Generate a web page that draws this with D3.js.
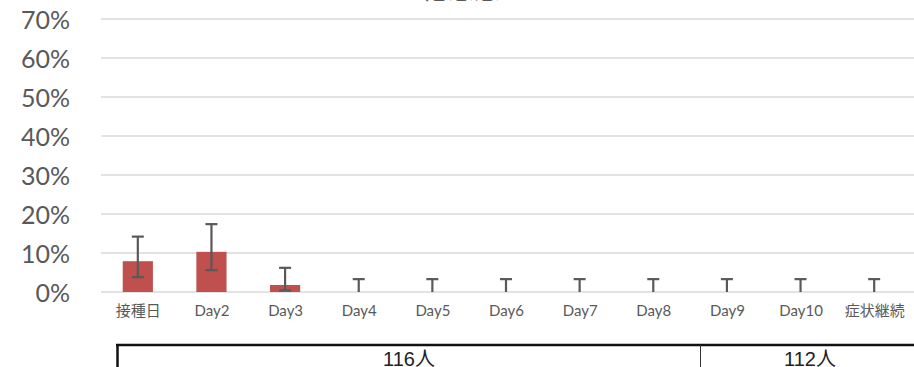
<!DOCTYPE html>
<html>
<head>
<meta charset="utf-8">
<script src="https://cdn.jsdelivr.net/npm/d3@7"></script>
<style>
  html, body { margin: 0; padding: 0; background: #fff; overflow: hidden; }
  svg { display: block; }
</style>
</head>
<body>
<script>
// ---- data ----
const categories = ["接種日","Day2","Day3","Day4","Day5","Day6","Day7","Day8","Day9","Day10","症状継続"];
const values = [7.9, 10.3, 1.8, 0, 0, 0, 0, 0, 0, 0, 0];          // %
const upperCI = [14.2, 17.4, 6.2, 3.3, 3.3, 3.3, 3.3, 3.3, 3.3, 3.3, 3.3];
const lowerCI = [3.8, 5.6, 0.4, 0, 0, 0, 0, 0, 0, 0, 0];
const yTicks = [0, 10, 20, 30, 40, 50, 60, 70];
const titleText = "倦怠感";
const groupLabels = ["116人", "112人"];

// ---- layout ----
const W = 914, H = 367;
const svg = d3.select("body").append("svg").attr("width", W).attr("height", H);

const x = d3.scalePoint().domain(categories).range([101, 911]).padding(0.5);
const step = x.step();
const barW = step * 0.41;
const y = d3.scaleLinear().domain([0, 70]).range([292, 19]);

const latin = "Lato, 'Noto Sans CJK JP', sans-serif";

// title (mostly clipped above the view)
svg.append("text")
  .attr("x", 461).attr("y", -1)
  .attr("text-anchor", "middle")
  .attr("font-family", "'Noto Sans CJK JP', sans-serif")
  .attr("font-size", 26)
  .attr("fill", "#595959")
  .text(titleText);

// gridlines
svg.append("g").selectAll("line").data(yTicks).join("line")
  .attr("x1", 101).attr("x2", W)
  .attr("y1", d => y(d)).attr("y2", d => y(d))
  .attr("stroke", "#d9d9d9").attr("stroke-width", 1.5);

// y axis labels via d3 axis
const yAxis = d3.axisLeft(y).tickValues(yTicks).tickFormat(d => d + "%").tickSize(0).tickPadding(0);
const yg = svg.append("g").attr("transform", "translate(70,0)").call(yAxis);
yg.select(".domain").remove();
yg.selectAll("text")
  .attr("font-family", latin)
  .attr("font-size", 25)
  .attr("fill", "#595959")
  .attr("dy", "0.36em");

// bars
svg.append("g").selectAll("rect").data(categories).join("rect")
  .attr("x", d => x(d) - barW / 2)
  .attr("width", barW)
  .attr("y", (d, i) => y(values[i]))
  .attr("height", (d, i) => y(0) - y(values[i]))
  .attr("fill", "#c0504d");

// error bars
const eb = svg.append("g").attr("stroke", "#595959").attr("stroke-width", 2.2);
categories.forEach((c, i) => {
  const cx = x(c);
  eb.append("line").attr("x1", cx).attr("x2", cx)
    .attr("y1", y(upperCI[i])).attr("y2", y(lowerCI[i]));
  eb.append("line").attr("x1", cx - 6).attr("x2", cx + 6)
    .attr("y1", y(upperCI[i])).attr("y2", y(upperCI[i]));
  if (lowerCI[i] > 0) {
    eb.append("line").attr("x1", cx - 6).attr("x2", cx + 6)
      .attr("y1", y(lowerCI[i])).attr("y2", y(lowerCI[i]));
  }
});

// x axis labels via d3 axis
const xAxis = d3.axisBottom(x).tickSize(0).tickPadding(0);
const xg = svg.append("g").attr("transform", "translate(0,305)").call(xAxis);
xg.select(".domain").remove();
xg.selectAll("text")
  .attr("font-family", latin)
  .attr("font-size", 15)
  .attr("fill", "#595959")
  .attr("dy", "0.71em");

// bottom table
const tbl = svg.append("g");
tbl.append("line").attr("x1", 116).attr("x2", W).attr("y1", 345).attr("y2", 345)
  .attr("stroke", "#111").attr("stroke-width", 2.5);
tbl.append("line").attr("x1", 117.5).attr("x2", 117.5).attr("y1", 344).attr("y2", H)
  .attr("stroke", "#111").attr("stroke-width", 2.5);
tbl.append("line").attr("x1", 700.5).attr("x2", 700.5).attr("y1", 345).attr("y2", H)
  .attr("stroke", "#333").attr("stroke-width", 1);
const groupCenters = [409, 810];
tbl.selectAll("text").data(groupLabels).join("text")
  .attr("x", (d, i) => groupCenters[i]).attr("y", 366)
  .attr("text-anchor", "middle")
  .attr("font-family", "'Liberation Sans', Arial, 'Noto Sans CJK JP', sans-serif")
  .attr("font-size", 20)
  .attr("fill", "#222")
  .text(d => d);
</script>
</body>
</html>
